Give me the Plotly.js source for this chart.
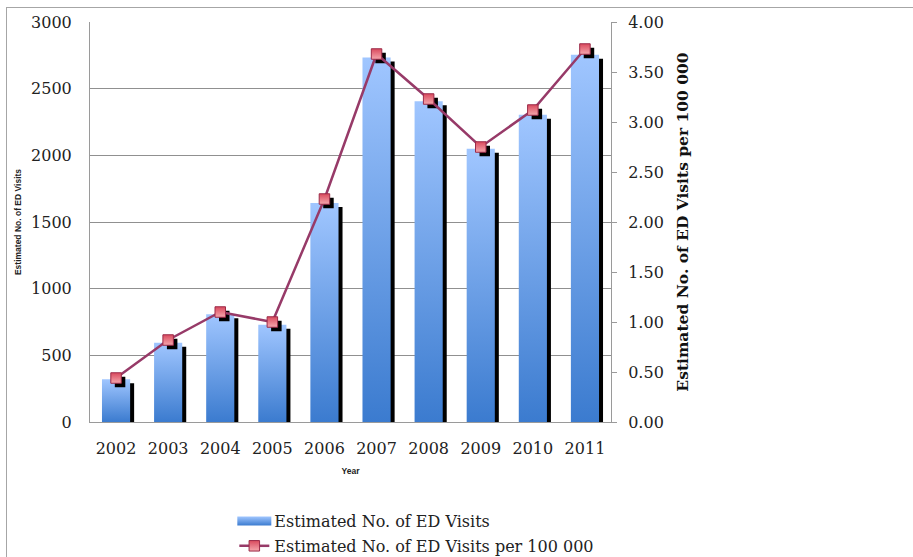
<!DOCTYPE html>
<html>
<head>
<meta charset="utf-8">
<script src="https://cdn.plot.ly/plotly-3.0.1.min.js"></script>
<style>
  html, body { margin: 0; padding: 0; background: #fff; }
  #chart { position: absolute; left: 0; top: 0; width: 913px; height: 557px; }
  #frame { position: absolute; left: 6px; top: 7px; width: 930px; height: 600px;
           border: 1px solid #a6a6a6; pointer-events: none; }
</style>
</head>
<body>
<div id="chart"></div>
<div id="frame"></div>
<script>
// ---- data ----
const years = ['2002','2003','2004','2005','2006','2007','2008','2009','2010','2011'];
const visits = [320, 595, 808, 730, 1643, 2733, 2405, 2050, 2305, 2755];
const visitsPer100k = [0.44, 0.82, 1.10, 1.00, 2.23, 3.68, 3.23, 2.75, 3.12, 3.73];
const barName = 'Estimated No. of ED Visits';
const lineName = 'Estimated No. of ED Visits per 100 000';
const leftTicks = [0, 500, 1000, 1500, 2000, 2500, 3000];
const rightTicks = [0, 0.5, 1, 1.5, 2, 2.5, 3, 3.5, 4];

// ---- styling ----
const BAR_W = 0.54;
const SHIFT_X = 0.077;        // shadow shift in category units (~4px)
const SHIFT_Y_LEFT = 30;      // shadow shift in left-axis units (~4px)
const SHIFT_Y_RIGHT = 0.04;   // shadow shift in right-axis units (~4px)
const serif = 'DejaVu Serif, serif';
const sans = 'Liberation Sans, Arial, sans-serif';

const traces = [
  { // bar shadow
    type: 'bar', x: years, y: visits, base: -SHIFT_Y_LEFT,
    width: BAR_W, offset: -BAR_W/2 + SHIFT_X,
    marker: { color: '#000' }, showlegend: false, hoverinfo: 'skip',
    xaxis: 'x', yaxis: 'y'
  },
  { // bars
    type: 'bar', name: barName, x: years, y: visits, width: BAR_W,
    legendgroup: 'a',
    marker: { color: '#6a9fe6', line: { width: 0 } },
    xaxis: 'x', yaxis: 'y'
  },
  { // marker shadows
    type: 'scatter', mode: 'markers', x: years, y: visitsPer100k,
    marker: { symbol: 'square', size: 10.5, color: '#000' },
    showlegend: false, hoverinfo: 'skip', xaxis: 'x2', yaxis: 'y2'
  },
  { // line
    type: 'scatter', mode: 'lines+markers', name: lineName, x: years, y: visitsPer100k,
    legendgroup: 'b',
    line: { color: '#973a68', width: 2.5 },
    marker: { symbol: 'square', size: 10.5, color: '#d9495d',
              gradient: { type: 'vertical', color: '#f5a7ad' },
              line: { color: '#9b2a48', width: 1 } },
    xaxis: 'x3', yaxis: 'y3'
  }
];

const layout = {
  width: 913, height: 557,
  margin: { l: 90, r: 302, t: 22, b: 135, autoexpand: false },
  paper_bgcolor: '#fff', plot_bgcolor: '#fff',
  barmode: 'overlay',
  showlegend: true,
  legend: { x: 0.277, y: 0.042, xref: 'paper', yref: 'container', xanchor: 'left', yanchor: 'middle',
            orientation: 'v', font: { family: serif, size: 16, color: '#222' },
            tracegroupgap: 1, itemsizing: 'trace', bgcolor: 'rgba(0,0,0,0)' },
  xaxis: {
    type: 'category', range: [-0.5, 9.5], showline: true, linecolor: '#9a9a9a', linewidth: 1,
    ticks: '', showgrid: false, zeroline: false, ticklabelstandoff: 12,
    tickfont: { family: serif, size: 16, color: '#222' },
    title: { text: 'Year', font: { family: sans, size: 8.5, color: '#222', weight: 'bold' }, standoff: 10 }
  },
  yaxis: {
    range: [0, 3000], tickvals: leftTicks, showline: true, linecolor: '#9a9a9a', linewidth: 1,
    showgrid: true, gridcolor: '#909090', gridwidth: 1, zeroline: false, ticks: '',
    tickfont: { family: serif, size: 16, color: '#222' }, ticklabelstandoff: 14,
    title: { text: barName, font: { family: sans, size: 8.5, color: '#222', weight: 'bold' }, standoff: 8 }
  },
  xaxis2: { type: 'category', overlaying: 'x', range: [-0.5 - SHIFT_X, 9.5 - SHIFT_X], visible: false },
  yaxis2: { overlaying: 'y', range: [SHIFT_Y_RIGHT, 4 + SHIFT_Y_RIGHT], visible: false },
  xaxis3: { type: 'category', overlaying: 'x', range: [-0.5, 9.5], visible: false },
  yaxis3: {
    overlaying: 'y', side: 'right', range: [0, 4], tickvals: rightTicks, tickformat: '.2f',
    showline: true, linecolor: '#9a9a9a', linewidth: 1, showgrid: false, zeroline: false,
    ticks: 'outside', ticklen: 5, tickcolor: '#9a9a9a', ticklabelstandoff: 8,
    tickfont: { family: serif, size: 16, color: '#222' },
    title: { text: lineName, font: { family: serif, size: 15.5, color: '#111', weight: 'bold' }, standoff: 14 }
  }
};

Plotly.newPlot('chart', traces, layout, { staticPlot: true, displayModeBar: false }).then(gd => {
  const NS = 'http://www.w3.org/2000/svg';
  const defs = gd.querySelector('svg.main-svg defs');
  const grad = document.createElementNS(NS, 'linearGradient');
  grad.setAttribute('id', 'barGrad');
  grad.setAttribute('x1', '0'); grad.setAttribute('y1', '0');
  grad.setAttribute('x2', '0'); grad.setAttribute('y2', '1');
  [['0', '#a0c6ff'], ['1', '#3b7bcf']].forEach(([o, c]) => {
    const s = document.createElementNS(NS, 'stop');
    s.setAttribute('offset', o); s.setAttribute('stop-color', c);
    grad.appendChild(s);
  });
  defs.appendChild(grad);
  const barTraces = gd.querySelectorAll('.barlayer .trace');
  if (barTraces[1]) barTraces[1].querySelectorAll('path').forEach(p => { p.style.fill = 'url(#barGrad)'; });
  const legItems = gd.querySelectorAll('.legend .traces');
  if (legItems[0]) {
    legItems[0].querySelectorAll('.legendpoints path').forEach(p => {
      p.setAttribute('d', 'M-17,-4.5H17V4.5H-17Z');
      p.style.fill = 'url(#barGrad)';
      p.style.stroke = 'none';
    });
  }
});
</script>
</body>
</html>
